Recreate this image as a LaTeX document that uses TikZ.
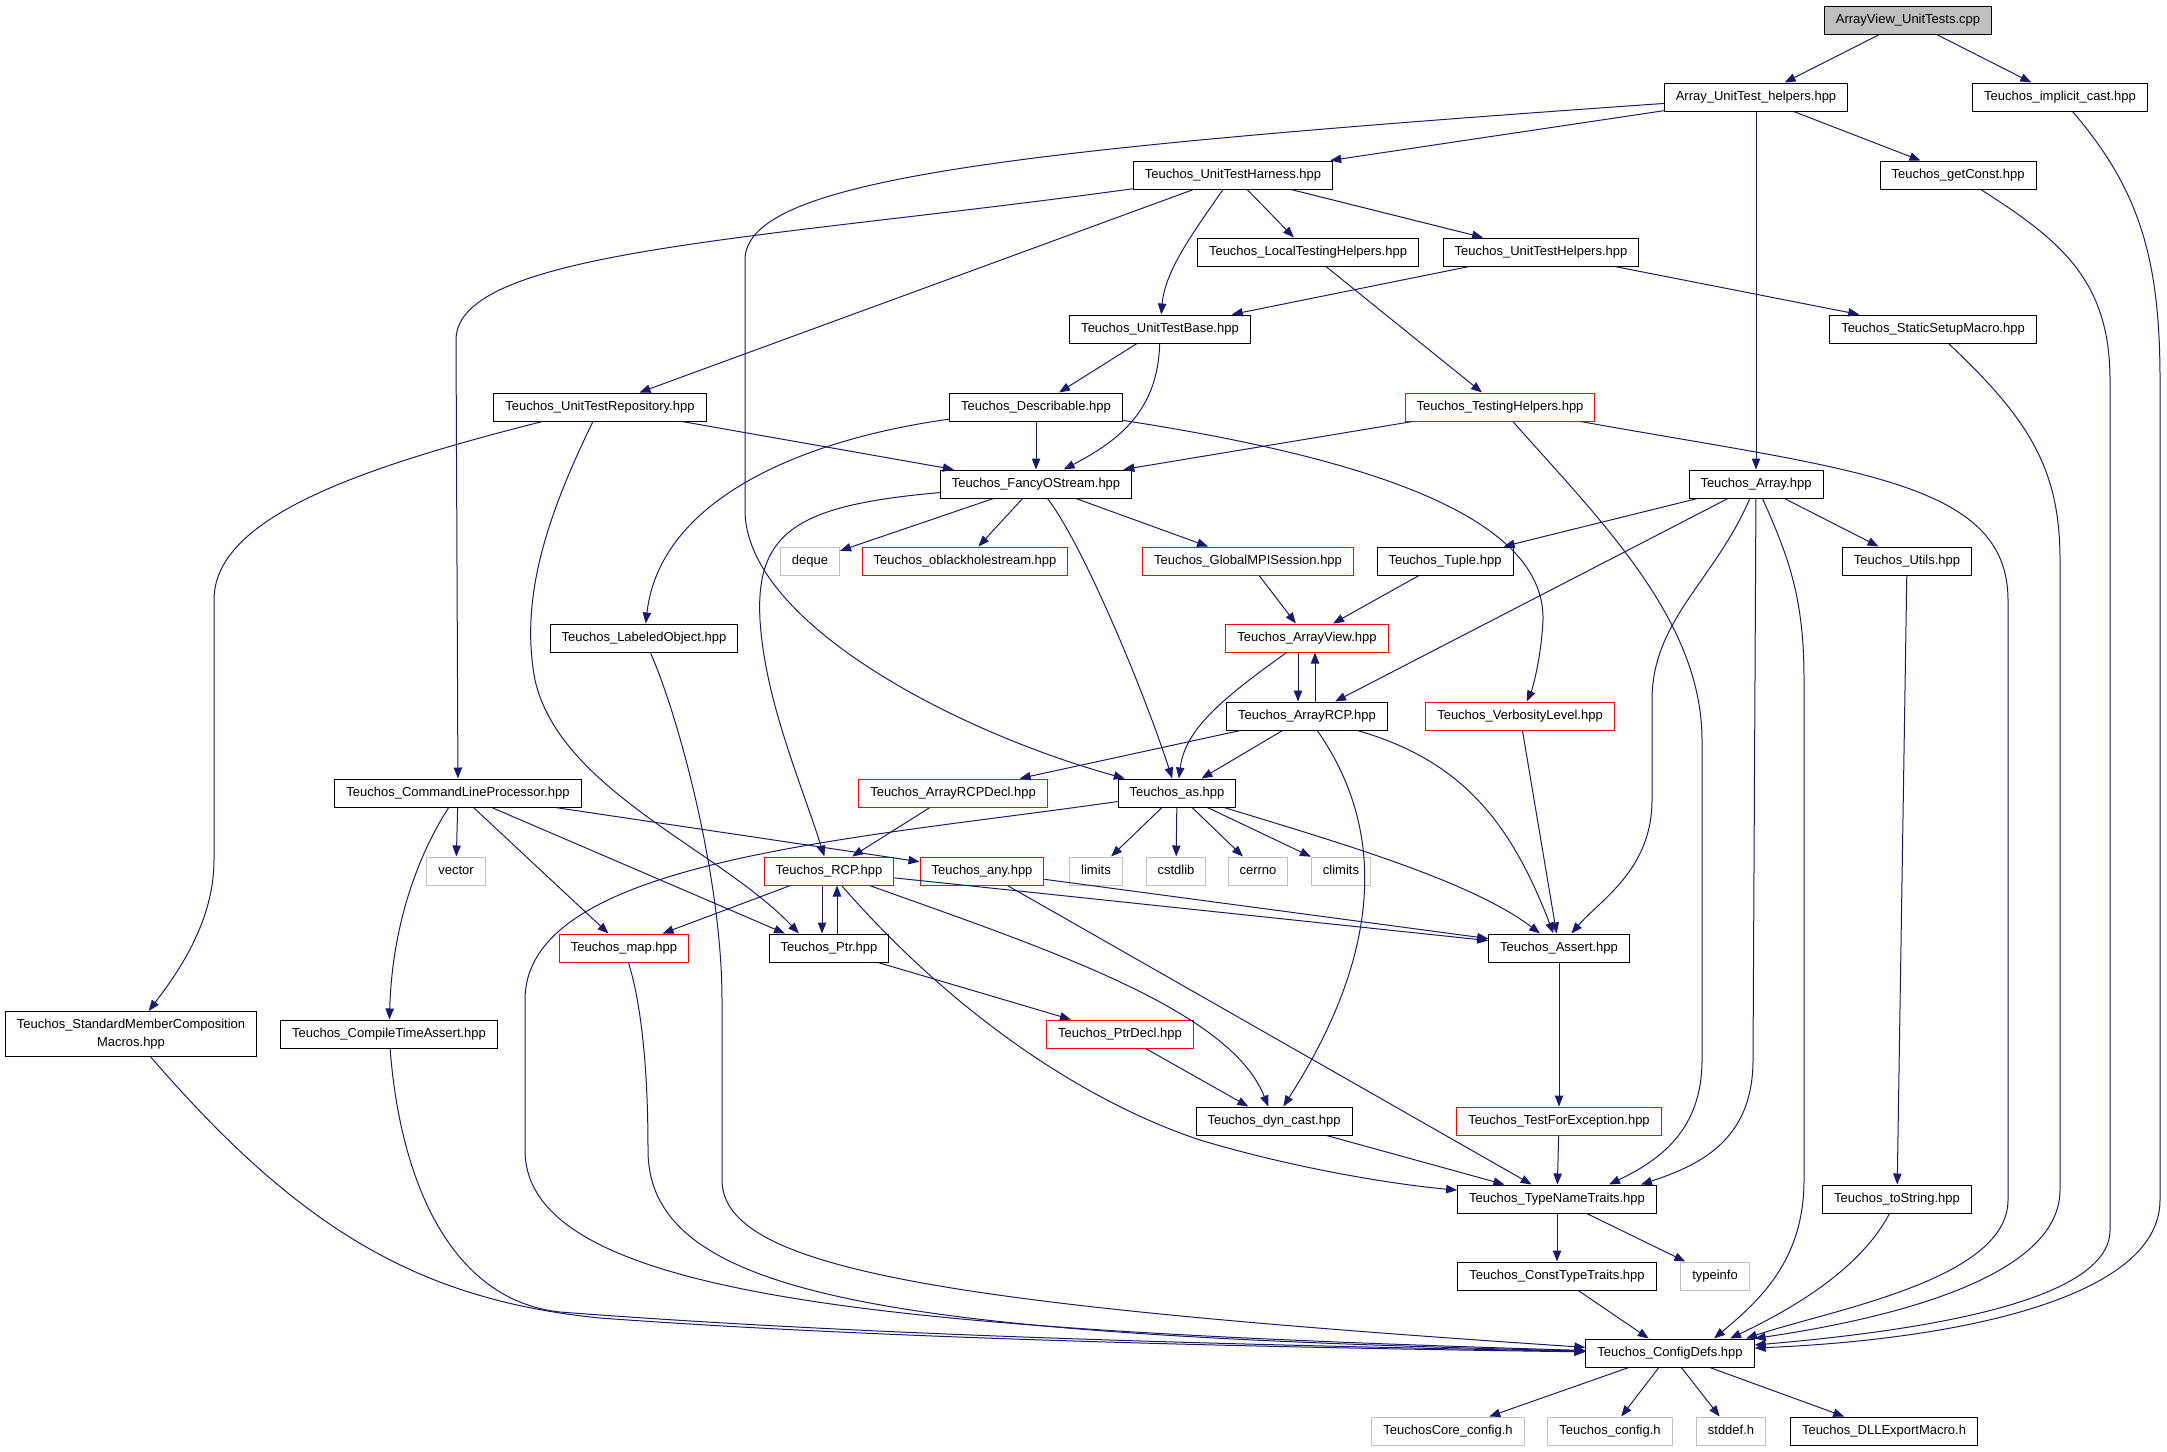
\documentclass[tikz,border=0pt]{standalone}
\usepackage{fontspec}
\setmainfont{Liberation Sans}
\usetikzlibrary{arrows.meta}
\definecolor{linkblue}{RGB}{25,25,112}
\definecolor{incred}{RGB}{255,0,0}
\definecolor{sysgrey}{RGB}{191,191,191}
\tikzset{
  >={Triangle[length=5.5pt,width=4.2pt]},
}
\tikzstyle{every node}=[font={\fontsize{6.5}{9}\selectfont}]
\tikzstyle{hdr}=[draw=black,line width=0.5pt,inner xsep=5.75pt,inner ysep=0pt,minimum height=14pt,text height=4.8pt,text depth=1.3pt]
\tikzstyle{hdrred}=[hdr,draw=incred]
\tikzstyle{hdrsys}=[hdr,draw=sysgrey]
\tikzstyle{hdrroot}=[hdr,fill=sysgrey]
\tikzstyle{dep}=[->,draw=linkblue,line width=0.5pt]

\begin{document}
\begin{tikzpicture}[x=0.5pt,y=-0.5pt]
    \useasboundingbox (0,0) rectangle (2167,1451);
    \node[hdrroot] (root) at (1908,20) {ArrayView\_UnitTests.cpp};
    \node[hdr] (helpers) at (1756,97) {Array\_UnitTest\_helpers.hpp};
    \node[hdr] (implicit) at (2060,97) {Teuchos\_implicit\_cast.hpp};
    \node[hdr] (harness) at (1233,175) {Teuchos\_UnitTestHarness.hpp};
    \node[hdr] (getconst) at (1958,175) {Teuchos\_getConst.hpp};
    \node[hdr] (localtest) at (1308,252) {Teuchos\_LocalTestingHelpers.hpp};
    \node[hdr] (unithelpers) at (1541,252) {Teuchos\_UnitTestHelpers.hpp};
    \node[hdr] (testbase) at (1160,329) {Teuchos\_UnitTestBase.hpp};
    \node[hdr] (staticsetup) at (1933,329) {Teuchos\_StaticSetupMacro.hpp};
    \node[hdr] (repository) at (600,407) {Teuchos\_UnitTestRepository.hpp};
    \node[hdr] (describable) at (1036,407) {Teuchos\_Describable.hpp};
    \node[hdrred] (testinghelpers) at (1500,407) {Teuchos\_TestingHelpers.hpp};
    \node[hdr] (fancy) at (1036,484) {Teuchos\_FancyOStream.hpp};
    \node[hdr] (array) at (1756,484) {Teuchos\_Array.hpp};
    \node[hdrsys] (deque) at (810,561) {deque};
    \node[hdrred] (oblack) at (965,561) {Teuchos\_oblackholestream.hpp};
    \node[hdrred] (mpi) at (1248,561) {Teuchos\_GlobalMPISession.hpp};
    \node[hdr] (tuple) at (1445,561) {Teuchos\_Tuple.hpp};
    \node[hdr] (utils) at (1907,561) {Teuchos\_Utils.hpp};
    \node[hdr] (labeled) at (644,638) {Teuchos\_LabeledObject.hpp};
    \node[hdrred] (arrayview) at (1307,638) {Teuchos\_ArrayView.hpp};
    \node[hdr] (arrayrcp) at (1307,716) {Teuchos\_ArrayRCP.hpp};
    \node[hdrred] (verbosity) at (1520,716) {Teuchos\_VerbosityLevel.hpp};
    \node[hdr] (clp) at (458,793) {Teuchos\_CommandLineProcessor.hpp};
    \node[hdrred] (rcpdecl) at (953,793) {Teuchos\_ArrayRCPDecl.hpp};
    \node[hdr] (as) at (1177,793) {Teuchos\_as.hpp};
    \node[hdrsys] (vector) at (456,871) {vector};
    \node[hdrred] (rcp) at (829,871) {Teuchos\_RCP.hpp};
    \node[hdrred] (any) at (982,871) {Teuchos\_any.hpp};
    \node[hdrsys] (limits) at (1096,871) {limits};
    \node[hdrsys] (cstdlib) at (1176,871) {cstdlib};
    \node[hdrsys] (cerrno) at (1258,871) {cerrno};
    \node[hdrsys] (climits) at (1341,871) {climits};
    \node[hdrred] (map) at (624,948) {Teuchos\_map.hpp};
    \node[hdr] (ptr) at (829,948) {Teuchos\_Ptr.hpp};
    \node[hdr] (assert) at (1559,948) {Teuchos\_Assert.hpp};
    \node[hdr,align=center,text height=,text depth=,minimum height=22.5pt] (stdmember) at (131,1034) {Teuchos\_StandardMemberComposition\\Macros.hpp};
    \node[hdr] (compiletime) at (389,1034) {Teuchos\_CompileTimeAssert.hpp};
    \node[hdrred] (ptrdecl) at (1120,1034) {Teuchos\_PtrDecl.hpp};
    \node[hdr] (dyncast) at (1274,1121) {Teuchos\_dyn\_cast.hpp};
    \node[hdrred] (testforexc) at (1559,1121) {Teuchos\_TestForException.hpp};
    \node[hdr] (typename) at (1557,1199) {Teuchos\_TypeNameTraits.hpp};
    \node[hdr] (tostring) at (1897,1199) {Teuchos\_toString.hpp};
    \node[hdr] (consttype) at (1557,1276) {Teuchos\_ConstTypeTraits.hpp};
    \node[hdrsys] (typeinfo) at (1715,1276) {typeinfo};
    \node[hdr] (configdefs) at (1670,1353) {Teuchos\_ConfigDefs.hpp};
    \node[hdrsys] (coreconfig) at (1448,1431) {TeuchosCore\_config.h};
    \node[hdrsys] (config) at (1610,1431) {Teuchos\_config.h};
    \node[hdrsys] (stddef) at (1731,1431) {stddef.h};
    \node[hdr] (dllexport) at (1884,1431) {Teuchos\_DLLExportMacro.h};

    \draw[dep] (root) -- (helpers);
    \draw[dep] (root) -- (implicit);
    \draw[dep] (helpers) -- (harness);
    \draw[dep] (helpers) -- (getconst);
    \draw[dep] (helpers) -- (array);
    \draw[dep] (helpers) .. controls (1000,150) and (745,180) .. (745,260) -- (745,510) .. controls (745,620) and (950,730) .. (as);
    \draw[dep] (implicit) .. controls (2140,190) and (2160,260) .. (2160,380) -- (2160,1200) .. controls (2160,1300) and (1950,1340) .. ([yshift=2.5pt]configdefs.east);
    \draw[dep] (harness) -- (localtest);
    \draw[dep] (harness) -- (unithelpers);
    \draw[dep] (harness) .. controls (1195,230) and (1165,270) .. (testbase);
    \draw[dep] (harness) -- (repository);
    \draw[dep] (harness) .. controls (760,240) and (456,250) .. (456,340) -- (clp);
    \draw[dep] (getconst) .. controls (2060,240) and (2110,280) .. (2110,380) -- (2110,1230) .. controls (2110,1300) and (1930,1330) .. ([yshift=4pt]configdefs.east);
    \draw[dep] (localtest) -- (testinghelpers);
    \draw[dep] (unithelpers) -- (testbase);
    \draw[dep] (unithelpers) -- (staticsetup);
    \draw[dep] (testbase) -- (describable);
    \draw[dep] (testbase) .. controls (1158,410) and (1120,440) .. (fancy);
    \draw[dep] (staticsetup) .. controls (2030,420) and (2060,470) .. (2060,560) -- (2060,1190) .. controls (2060,1280) and (1880,1320) .. (configdefs.north east);
    \draw[dep] (repository) -- (fancy);
    \draw[dep] (repository) .. controls (350,470) and (214,520) .. (214,600) -- (214,860) .. controls (214,920) and (180,970) .. (stdmember);
    \draw[dep] (repository) .. controls (545,520) and (520,600) .. (535,680) .. controls (560,790) and (720,850) .. ([xshift=-15pt]ptr.north);
    \draw[dep] (describable) -- (fancy);
    \draw[dep] (describable) .. controls (800,440) and (660,500) .. (labeled);
    \draw[dep] (describable) .. controls (1380,460) and (1545,520) .. (1543,620) .. controls (1541,660) and (1532,690) .. (verbosity);
    \draw[dep] (testinghelpers) -- (fancy);
    \draw[dep] (testinghelpers) .. controls (1600,520) and (1702,620) .. (1702,740) -- (1702,1060) .. controls (1702,1130) and (1660,1160) .. ([xshift=26pt]typename.north);
    \draw[dep] (testinghelpers) .. controls (1850,470) and (2008,480) .. (2008,600) -- (2008,1200) .. controls (2008,1280) and (1830,1310) .. ([xshift=38pt]configdefs.north);
    \draw[dep] (fancy) -- (deque);
    \draw[dep] (fancy) -- (oblack);
    \draw[dep] (fancy) -- (mpi);
    \draw[dep] (fancy) .. controls (1080,540) and (1140,680) .. (as);
    \draw[dep] (fancy) .. controls (800,505) and (755,530) .. (760,620) .. controls (765,700) and (800,780) .. (rcp);
    \draw[dep] (array) -- (tuple);
    \draw[dep] (array) -- (arrayrcp);
    \draw[dep] (array) -- (utils);
    \draw[dep] (array) .. controls (1715,580) and (1652,620) .. (1652,700) -- (1652,800) .. controls (1652,870) and (1600,900) .. (assert);
    \draw[dep] (array) -- (1753,1060) .. controls (1753,1140) and (1700,1165) .. ([xshift=42pt]typename.north);
    \draw[dep] (array) .. controls (1790,560) and (1804,600) .. (1804,680) -- (1804,1180) .. controls (1804,1260) and (1760,1300) .. ([xshift=22pt]configdefs.north);
    \draw[dep] (mpi) -- (arrayview);
    \draw[dep] (tuple) -- (arrayview);
    \draw[dep] (utils) -- (tostring);
    \draw[dep] (labeled) .. controls (680,720) and (722,880) .. (722,1000) -- (722,1180) .. controls (722,1270) and (950,1305) .. (configdefs);
    \draw[dep] ([xshift=-4.5pt]arrayview.south) -- ([xshift=-4.5pt]arrayrcp.north);
    \draw[dep] (arrayview) .. controls (1220,700) and (1185,730) .. (as);
    \draw[dep] ([xshift=4pt]arrayrcp.north) -- ([xshift=4pt]arrayview.south);
    \draw[dep] (arrayrcp) -- (rcpdecl);
    \draw[dep] (arrayrcp) -- (as);
    \draw[dep] (arrayrcp) .. controls (1380,820) and (1390,940) .. (dyncast);
    \draw[dep] (arrayrcp) .. controls (1460,760) and (1510,820) .. (assert);
    \draw[dep] (verbosity) -- (assert);
    \draw[dep] (clp) -- (vector);
    \draw[dep] (clp) -- (map);
    \draw[dep] (clp) -- ([xshift=-22pt]ptr.north);
    \draw[dep] (clp) -- (any);
    \draw[dep] (clp) .. controls (415,860) and (392,930) .. (compiletime);
    \draw[dep] (rcpdecl) -- (rcp);
    \draw[dep] (as) -- (limits);
    \draw[dep] (as) -- (cstdlib);
    \draw[dep] (as) -- (cerrno);
    \draw[dep] (as) -- (climits);
    \draw[dep] (as) .. controls (1330,840) and (1470,880) .. (assert);
    \draw[dep] (as) .. controls (850,840) and (525,860) .. (525,1000) -- (525,1150) .. controls (525,1300) and (900,1330) .. (configdefs);
    \draw[dep] (rcp) -- (map);
    \draw[dep] ([xshift=-3.5pt]rcp.south) -- ([xshift=-3.5pt]ptr.north);
    \draw[dep] (rcp) -- (assert);
    \draw[dep] (rcp) .. controls (1050,950) and (1230,1010) .. (dyncast);
    \draw[dep] (rcp) .. controls (950,1010) and (1080,1100) .. (1200,1140) .. controls (1300,1170) and (1400,1185) .. (typename);
    \draw[dep] (any) -- (assert);
    \draw[dep] (any) -- (typename);
    \draw[dep] (map) .. controls (640,1000) and (648,1060) .. (648,1150) .. controls (648,1300) and (900,1335) .. (configdefs);
    \draw[dep] ([xshift=4pt]ptr.north) -- ([xshift=4pt]rcp.south);
    \draw[dep] (ptr) -- (ptrdecl);
    \draw[dep] (assert) -- (testforexc);
    \draw[dep] (stdmember) .. controls (300,1230) and (420,1300) .. (600,1318) .. controls (900,1340) and (1300,1348) .. (configdefs);
    \draw[dep] (compiletime) .. controls (400,1180) and (450,1300) .. (560,1312) .. controls (900,1338) and (1300,1346) .. (configdefs);
    \draw[dep] (ptrdecl) -- (dyncast);
    \draw[dep] (dyncast) -- (typename);
    \draw[dep] (testforexc) -- (typename);
    \draw[dep] (typename) -- (consttype);
    \draw[dep] (typename) -- (typeinfo);
    \draw[dep] (tostring) .. controls (1860,1270) and (1790,1310) .. ([xshift=30pt]configdefs.north);
    \draw[dep] (consttype) -- (configdefs);
    \draw[dep] (configdefs) -- (coreconfig);
    \draw[dep] (configdefs) -- (config);
    \draw[dep] (configdefs) -- (stddef);
    \draw[dep] (configdefs) -- (dllexport);
\end{tikzpicture}
\end{document}
